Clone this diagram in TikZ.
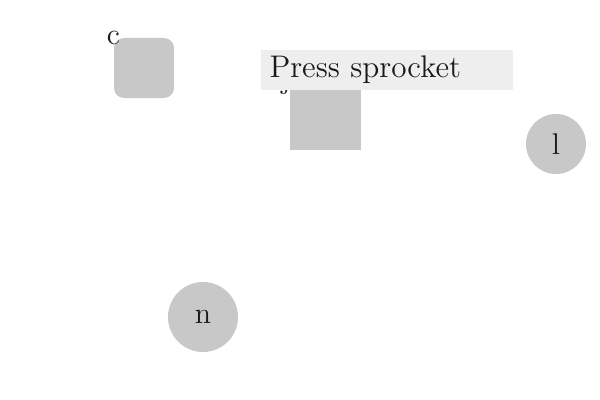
\documentclass[tikz,border=0pt]{standalone}
\usepackage{tikz}
\definecolor{shade}{HTML}{C8C8C8}
\definecolor{pale}{HTML}{EEEEEE}
\definecolor{ink}{HTML}{1A1A1A}

\begin{document}
\begin{tikzpicture}[x=0.4pt,y=-0.4pt,font=\large,
    blob/.style={fill=shade,draw=none,inner sep=0pt,text=ink},
    corner/.style={anchor=center,inner sep=0pt,text=ink}]
   \useasboundingbox (0,0) rectangle (600,400);
   \node[blob,rounded corners=4pt,minimum size=24pt,
     label={[corner]north west:c}] (c) at (144,68) {};
   \node[blob,minimum size=28.4pt,
     label={[corner,xshift=-1.5pt,yshift=-1.5pt]north west:j}] (j) at (325.5,114.5) {};
   \node[fill=pale,anchor=west,inner xsep=3.6pt,inner ysep=0pt,
     text width=93.6pt,minimum height=16pt,align=left,text=ink,
     font=\fontsize{12.5}{15}\selectfont] (press) at (260,70) {Press sprocket};
   \node[blob,circle,minimum size=24pt] (l) at (556,144) {l};
   \node[blob,circle,minimum size=28pt] (n) at (203,317) {n};
\end{tikzpicture}
\end{document}
